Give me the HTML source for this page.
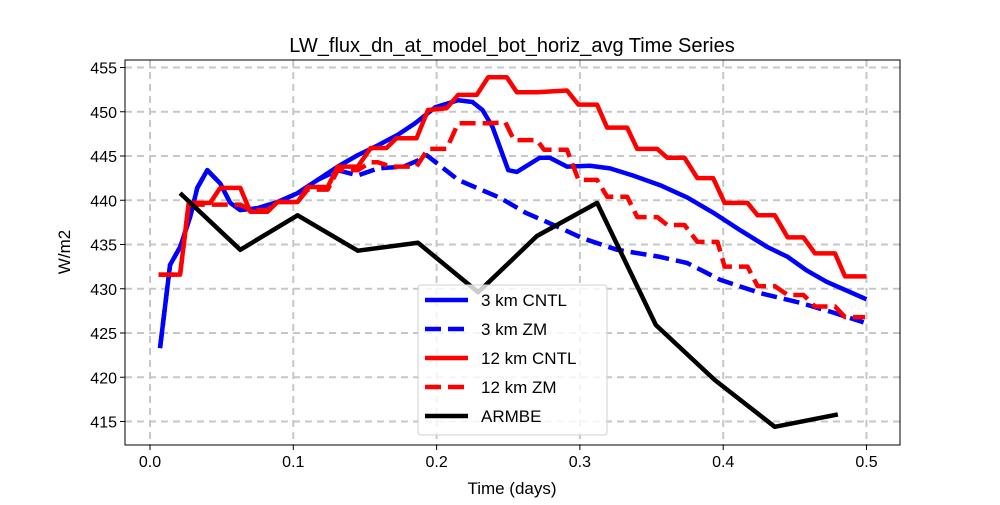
<!DOCTYPE html>
<html><head><meta charset="utf-8"><style>
body{margin:0;background:#fff;}
svg{font-family:"Liberation Sans","DejaVu Sans",sans-serif;}
</style></head><body>
<svg id="chart" width="1000" height="500" xmlns="http://www.w3.org/2000/svg"></svg>
<script>
const xTicks=[0.0,0.1,0.2,0.3,0.4,0.5];
const xTickLabels=["0.0","0.1","0.2","0.3","0.4","0.5"];
const yTicks=[415,420,425,430,435,440,445,450,455];
const cntl3T=[.007,.014,.021,.028,.033,.040,.049,.056,.063,.075,.089,.103,.117,.131,.145,.159,.173,.185,.199,.215,.225,.232,.239,.250,.256,.272,.279,.291,.307,.321,.337,.356,.375,.393,.412,.431,.445,.458,.472,.500];
const cntl3V=[423.3,432.7,434.7,438.1,441.4,443.4,441.9,439.7,438.9,439.1,439.8,440.8,442.3,443.8,445.1,446.2,447.4,448.7,450.5,451.3,451.1,450.2,448.3,443.4,443.2,444.8,444.8,443.8,443.9,443.6,442.8,441.7,440.3,438.6,436.6,434.7,433.6,432.1,430.8,428.8];
const zm3T=[.007,.014,.021,.028,.033,.040,.049,.056,.063,.075,.089,.103,.117,.131,.145,.159,.177,.187,.193,.215,.244,.262,.279,.302,.326,.356,.375,.398,.426,.454,.477,.498];
const zm3V=[423.3,432.7,434.7,438.1,441.4,443.4,441.9,439.7,438.9,439.1,439.8,440.8,442.3,443.4,442.8,443.6,443.8,444.5,445.1,442.3,440.3,438.6,437.4,435.7,434.4,433.6,432.9,431.0,429.5,428.4,427.3,426.2];
const cntl12T=[.006,.021,.027,.042,.049,.063,.070,.082,.089,.103,.110,.124,.131,.145,.154,.165,.172,.186,.194,.207,.215,.228,.236,.249,.256,.270,.291,.299,.312,.319,.333,.340,.354,.361,.373,.382,.393,.401,.417,.424,.436,.445,.456,.464,.478,.485,.500];
const cntl12V=[431.6,431.6,439.7,439.7,441.4,441.4,438.7,438.7,439.8,439.8,441.5,441.5,443.8,443.8,445.9,445.9,447.0,447.0,450.2,450.4,451.9,451.9,453.9,453.9,452.2,452.2,452.4,450.8,450.8,448.2,448.2,445.8,445.8,444.8,444.8,442.5,442.5,439.7,439.7,438.3,438.3,435.8,435.8,434.0,434.0,431.4,431.4];
const zm12T=[.006,.021,.027,.063,.070,.082,.089,.103,.110,.124,.131,.145,.154,.159,.168,.186,.194,.207,.215,.236,.248,.254,.270,.275,.291,.299,.312,.319,.333,.340,.354,.361,.373,.382,.396,.401,.417,.424,.436,.445,.456,.464,.478,.485,.499];
const zm12V=[431.6,431.6,439.5,439.5,438.9,438.9,439.8,439.8,441.2,441.2,443.4,443.4,444.3,444.3,443.8,443.8,445.8,445.8,448.7,448.7,448.8,446.8,446.8,445.7,445.7,442.3,442.3,440.4,440.4,438.1,438.1,437.2,437.2,435.3,435.3,432.5,432.5,430.3,430.3,429.3,429.3,428.0,428.0,426.8,426.8];
const armT=[.021,.063,.103,.145,.187,.229,.270,.312,.353,.394,.436,.480];
const armV=[440.8,434.4,438.3,434.3,435.2,429.6,435.96,439.7,425.9,419.7,414.4,415.8];

const NS="http://www.w3.org/2000/svg";
const svg=document.getElementById('chart');
const L=125,R=900,T=60,B=445;
function sx(d){return 150+d*1433;}
function sy(v){return 67.5+(455-v)*8.85;}
function mk(tag,attrs,parent){const e=document.createElementNS(NS,tag);for(const k in attrs)e.setAttribute(k,attrs[k]);(parent||svg).appendChild(e);return e;}

// grid
xTicks.forEach((t,i)=>{
  const g=mk('line',{x1:sx(t),x2:sx(t),y1:T,y2:B,stroke:'#c4c8c8','stroke-width':2,'stroke-dasharray':'7,5'});
  
  
  const tk=mk('line',{x1:sx(t),x2:sx(t),y1:B,y2:B+5,stroke:'#000'});
  
  
  const tx=mk('text',{x:sx(t),y:B+22,'text-anchor':'middle','font-size':16});
  tx.textContent=xTickLabels[i];
  
  
});
yTicks.forEach(v=>{
  const g=mk('line',{x1:L,x2:R,y1:sy(v),y2:sy(v),stroke:'#c4c8c8','stroke-width':2,'stroke-dasharray':'7,5'});
  
  
  const tk=mk('line',{x1:L-5,x2:L,y1:sy(v),y2:sy(v),stroke:'#000'});
  
  
  const tx=mk('text',{x:L-8,y:sy(v)+6,'text-anchor':'end','font-size':16});
  tx.textContent=String(v);
  
  
});

function line(ts,vs,color,dash,name){
  const p=mk('polyline',{points:ts.map((t,i)=>sx(t)+','+sy(vs[i])).join(' '),fill:'none',stroke:color,'stroke-width':4.5,'stroke-linejoin':'round'});
  if(dash)p.setAttribute('stroke-dasharray',dash);
  
  
}
line(cntl3T,cntl3V,'#0000ff',null,'series-3km-cntl');
line(zm3T,zm3V,'#0000ff','16,7','series-3km-zm');
line(cntl12T,cntl12V,'#ff0000',null,'series-12km-cntl');
line(zm12T,zm12V,'#ff0000','16,7','series-12km-zm');
line(armT,armV,'#000000',null,'series-armbe');

const frame=mk('rect',{x:L,y:T,width:R-L,height:B-T,fill:'none',stroke:'#000','stroke-width':1});



// legend
const lg=mk('g',{});


mk('rect',{x:418,y:285,width:189,height:150,rx:3,fill:'rgba(255,255,255,0.8)',stroke:'#d0d0d0'},lg);
const legNames=['3 km CNTL','3 km ZM','12 km CNTL','12 km ZM','ARMBE'];
const legColors=['#0000ff','#0000ff','#ff0000','#ff0000','#000000'];
const legDash=[null,'16,7',null,'16,7',null];
legNames.forEach((n,i)=>{
  const y=300+i*29;
  const e=mk('g',{},lg);
  
  
  const l=mk('line',{x1:425,x2:468,y1:y,y2:y,stroke:legColors[i],'stroke-width':4.5},e);
  if(legDash[i])l.setAttribute('stroke-dasharray',legDash[i]);
  const t=mk('text',{x:481,y:y+6,'font-size':17},e);
  t.textContent=n;
});

const title=mk('text',{x:512,y:52,'text-anchor':'middle','font-size':20});
title.textContent='LW_flux_dn_at_model_bot_horiz_avg Time Series';


const xl=mk('text',{x:512,y:494,'text-anchor':'middle','font-size':17});
xl.textContent='Time (days)';


const yl=mk('text',{x:0,y:0,'text-anchor':'middle','font-size':17,transform:'translate(70,252) rotate(-90)'});
yl.textContent='W/m2';


</script>
</body></html>
